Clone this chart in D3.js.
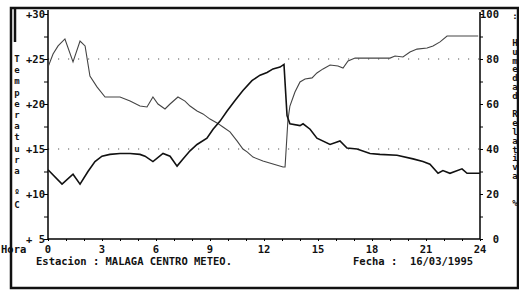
<!DOCTYPE html>
<html>
<head>
<meta charset="utf-8">
<script src="https://cdn.jsdelivr.net/npm/d3@7"></script>
<style>
  body { margin: 0; background: #fff; }
  svg text { font-family: "DejaVu Sans Mono", monospace; font-weight: bold; fill: #111; }
</style>
</head>
<body>
<div id="chart"></div>
<script>
// Horas y temperatura (ºC)
const horasT = [0, 0.78, 1.39, 1.78, 2.22, 2.61, 3.0, 3.44, 4.0, 4.56, 5.11, 5.39, 5.83, 6.39, 6.78, 7.17, 7.5, 7.89, 8.28, 8.83, 9.17, 9.56, 9.94, 10.39, 10.83, 11.33, 11.78, 12.17, 12.5, 12.89, 13.11, 13.28, 13.44, 14.0, 14.17, 14.56, 14.94, 15.67, 16.22, 16.61, 17.17, 17.89, 18.44, 19.39, 20.28, 20.83, 21.22, 21.67, 21.94, 22.33, 23.0, 23.28, 23.72, 24.0];
const temperatura = [12.7, 11.1, 12.2, 11.1, 12.5, 13.6, 14.2, 14.4, 14.5, 14.5, 14.4, 14.2, 13.6, 14.5, 14.2, 13.1, 13.9, 14.8, 15.5, 16.2, 17.2, 18.1, 19.2, 20.4, 21.5, 22.6, 23.2, 23.5, 23.9, 24.1, 24.4, 18.7, 17.8, 17.6, 17.8, 17.2, 16.2, 15.5, 15.9, 15.1, 15.0, 14.5, 14.4, 14.3, 13.9, 13.6, 13.3, 12.3, 12.6, 12.3, 12.8, 12.3, 12.3, 12.3];

// Horas y humedad relativa (%)
const horasH = [0, 0.28, 0.56, 0.94, 1.39, 1.78, 2.06, 2.33, 2.72, 3.17, 4.0, 4.56, 5.11, 5.5, 5.83, 6.11, 6.5, 6.78, 7.22, 7.61, 7.89, 8.28, 8.61, 9.0, 9.39, 9.72, 10.11, 10.5, 10.83, 11.06, 11.39, 11.94, 12.5, 13.06, 13.17, 13.33, 13.44, 13.72, 14.0, 14.28, 14.67, 14.94, 15.28, 15.67, 16.11, 16.39, 16.67, 17.06, 18.44, 19.0, 19.28, 19.72, 20.11, 20.5, 21.06, 21.39, 21.78, 22.17, 23.61, 23.9];
const humedad = [76.4, 82.2, 85.8, 88.9, 78.7, 88.0, 85.8, 72.4, 67.6, 63.1, 63.1, 61.3, 59.1, 58.7, 63.1, 60.0, 57.8, 60.0, 63.1, 61.3, 59.1, 56.9, 55.6, 53.3, 51.6, 49.8, 47.6, 43.6, 40.0, 38.7, 36.4, 34.7, 33.3, 32.0, 32.0, 53.0, 59.1, 65.3, 69.8, 71.1, 71.6, 73.8, 75.6, 77.3, 76.9, 76.0, 79.1, 80.4, 80.4, 80.4, 81.3, 80.9, 83.1, 84.4, 84.9, 85.8, 87.6, 90.2, 90.2, 90.2];

const ticksHora = [0, 3, 6, 9, 12, 15, 18, 21, 24];
const ticksTemp = [30, 25, 20, 15, 10, 5];
const etiqTemp = ["+30", "+25", "+20", "+15", "+10", "+ 5"];
const ticksHum = [100, 80, 60, 40, 20, 0];
const rejilla = [25, 15];

const width = 519;
const height = 293;

const svg = d3.select("#chart")
    .append("svg")
    .attr("width", width)
    .attr("height", height);

// Escalas
const x = d3.scaleLinear().domain([0, 24]).range([48, 480]);
const yT = d3.scaleLinear().domain([5, 30]).range([239, 14]);
const yH = d3.scaleLinear().domain([0, 100]).range([239, 14]);

// Marco
svg.append("rect")
    .attr("x", 11).attr("y", 8)
    .attr("width", 507).attr("height", 280)
    .attr("fill", "none")
    .attr("stroke", "#111")
    .attr("stroke-width", 2.5);
svg.append("line")
    .attr("x1", 15).attr("x2", 15).attr("y1", 8).attr("y2", 42)
    .attr("stroke", "#111").attr("stroke-width", 2.5);

// Rejilla punteada
svg.selectAll("line.rejilla")
    .data(rejilla)
    .join("line")
    .attr("class", "rejilla")
    .attr("x1", x(0)).attr("x2", x(24))
    .attr("y1", d => yT(d)).attr("y2", d => yT(d))
    .attr("stroke", "#555")
    .attr("stroke-width", 1)
    .attr("stroke-dasharray", "1.2,8.8");

// Eje izquierdo (temperatura)
const ejeT = svg.append("g")
    .attr("transform", `translate(${x(0)},0)`)
    .call(d3.axisLeft(yT).tickValues(d3.range(5, 30.1, 2.5)).tickSize(4).tickFormat(""));
ejeT.select(".domain").attr("d", `M0,10V${yT(5)}`).attr("stroke-width", 1.5);
svg.selectAll("text.etT")
    .data(ticksTemp)
    .join("text")
    .attr("class", "etT")
    .attr("x", 45)
    .attr("y", d => yT(d) + 4)
    .attr("text-anchor", "end")
    .style("font-size", "10.5px")
    .text((d, i) => etiqTemp[i]);

// Eje derecho (humedad)
const ejeH = svg.append("g")
    .attr("transform", `translate(${x(24)},0)`)
    .call(d3.axisRight(yH).tickValues(d3.range(0, 101, 10)).tickSize(3).tickFormat(""));
ejeH.select(".domain").attr("d", `M0,12V${yH(0)}`).attr("stroke-width", 1.5);
svg.selectAll("text.etH")
    .data(ticksHum)
    .join("text")
    .attr("class", "etH")
    .attr("x", 499)
    .attr("y", d => yH(d) + 4)
    .attr("text-anchor", "end")
    .style("font-size", "10.5px")
    .text(d => d);

// Eje inferior (horas)
const ejeX = svg.append("g")
    .attr("transform", `translate(0,${yT(5)})`)
    .call(d3.axisBottom(x).tickValues(d3.range(0, 25, 1)).tickSize(2).tickFormat(""));
ejeX.select(".domain").attr("d", `M${x(0)},0H${x(24)}`).attr("stroke-width", 1.5);
svg.selectAll("text.etX")
    .data(ticksHora)
    .join("text")
    .attr("class", "etX")
    .attr("x", d => x(d))
    .attr("y", 253)
    .attr("text-anchor", "middle")
    .style("font-size", "10.5px")
    .text(d => d);
svg.append("text")
    .attr("x", 1).attr("y", 253)
    .style("font-size", "10.5px")
    .text("Hora");

// Líneas
const lineaH = d3.line()
    .x((d, i) => x(horasH[i]))
    .y(d => yH(d));
svg.append("path")
    .datum(humedad)
    .attr("d", lineaH)
    .attr("fill", "none")
    .attr("stroke", "#444")
    .attr("stroke-width", 1.1);

const lineaT = d3.line()
    .x((d, i) => x(horasT[i]))
    .y(d => yT(d));
svg.append("path")
    .datum(temperatura)
    .attr("d", lineaT)
    .attr("fill", "none")
    .attr("stroke", "#111")
    .attr("stroke-width", 1.6);

// Textos inferiores
svg.append("text")
    .attr("x", 36).attr("y", 265)
    .style("font-size", "10.5px")
    .attr("xml:space", "preserve")
    .text("Estacion : MALAGA CENTRO METEO.");
svg.append("text")
    .attr("x", 353).attr("y", 265)
    .style("font-size", "10.5px")
    .style("white-space", "pre")
    .text("Fecha :  16/03/1995");

// Títulos verticales (letras apiladas)
const tituloT = "Temperatura ºC".split("");
svg.selectAll("text.tT")
    .data(tituloT)
    .join("text")
    .attr("class", "tT")
    .attr("x", 17)
    .attr("y", (d, i) => 62 + i * 11.2)
    .attr("text-anchor", "middle")
    .style("font-size", "9px")
    .text(d => d);

const tituloH = ":  Humedad Relativa  %".split("");
svg.selectAll("text.tH")
    .data(tituloH)
    .join("text")
    .attr("class", "tH")
    .attr("x", 515)
    .attr("y", (d, i) => 19 + i * 8.9)
    .attr("text-anchor", "middle")
    .style("font-size", "9px")
    .text(d => d);
</script>
</body>
</html>
